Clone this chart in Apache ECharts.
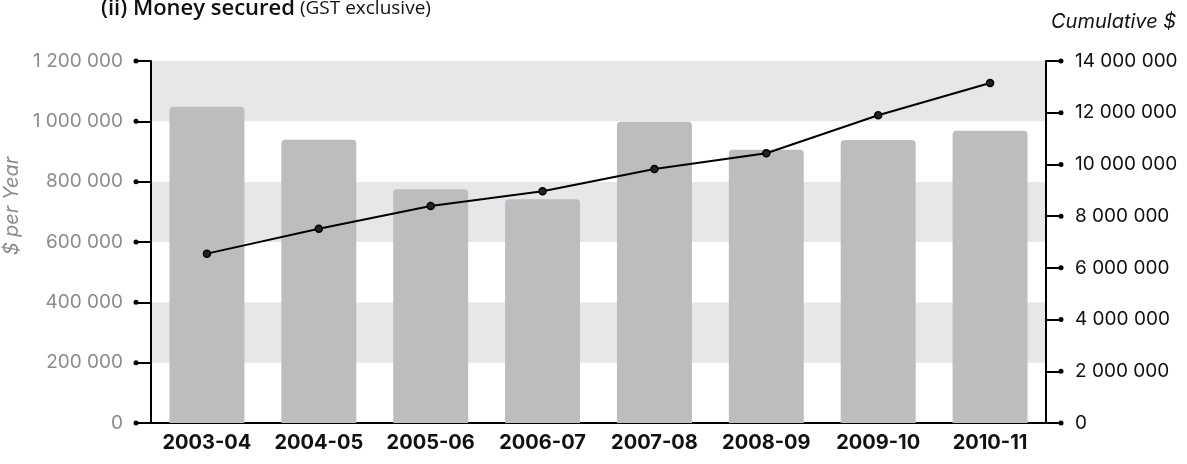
<!DOCTYPE html>
<html>
<head>
<meta charset="utf-8">
<script src="https://cdn.jsdelivr.net/npm/echarts@6/dist/echarts.min.js"></script>
<style>
  html, body { margin: 0; padding: 0; background: #fff; }
  #chart { width: 1187px; height: 464px; }
</style>
</head>
<body>
<div id="chart"></div>
<script>
// Financial years
const years = ['2003-04', '2004-05', '2005-06', '2006-07', '2007-08', '2008-09', '2009-10', '2010-11'];
// Money secured in each year ($, GST exclusive)
const perYear = [1048000, 939000, 775000, 742000, 999000, 906000, 938000, 969000];
// Running total ($)
const cumulative = [6550000, 7510000, 8390000, 8960000, 9820000, 10430000, 11900000, 13150000];
// Tick values for both value axes
const leftTicks = [0, 200000, 400000, 600000, 800000, 1000000, 1200000];
const rightTicks = [0, 2000000, 4000000, 6000000, 8000000, 10000000, 12000000, 14000000];

const FONT = 'Inter, Roboto, "Liberation Sans", sans-serif';
const TITLE_FONT = '"Open Sans", "Noto Sans", sans-serif';
// thousands grouped with a space
const fmt = v => String(v).replace(/\B(?=(\d{3})+(?!\d))/g, ' ');

const chart = echarts.init(document.getElementById('chart'), null, { renderer: 'canvas' });

chart.setOption({
  animation: false,
  backgroundColor: '#ffffff',
  title: {
    text: '{a|(ii) Money secured} {b|(GST exclusive)}',
    left: 96,
    top: -7,
    textStyle: {
      rich: {
        a: { fontFamily: TITLE_FONT, fontSize: 22, fontWeight: 600, color: '#111' },
        b: { fontFamily: TITLE_FONT, fontSize: 19, fontWeight: 500, color: '#111' }
      }
    }
  },
  grid: { left: 151, right: 141, top: 61, bottom: 41, containLabel: false, outerBoundsMode: 'none' },
  xAxis: {
    type: 'category',
    data: years,
    axisLine: { lineStyle: { color: '#000', width: 2 } },
    axisTick: { show: false },
    axisLabel: { interval: 0, hideOverlap: false, fontFamily: FONT, fontSize: 20, fontWeight: 'bold', color: '#111', margin: 10 }
  },
  yAxis: [
    {
      type: 'value',
      min: 0, max: 1200000, interval: 200000,
      name: '$ per Year',
      nameLocation: 'middle',
      nameGap: 119,
      nameTextStyle: { fontFamily: FONT, fontSize: 20, fontStyle: 'italic', color: '#8a8b8d', padding: [0, 0, 0, 72] },
      axisLine: { show: true, lineStyle: { color: '#000', width: 2 } },
      axisTick: { show: true, length: 15, lineStyle: { color: '#000', width: 2 } },
      axisLabel: { fontFamily: FONT, fontSize: 19, color: '#8a8b8d', margin: 28, formatter: fmt },
      splitLine: { show: false },
      splitArea: { show: true, areaStyle: { color: ['#ffffff', '#e6e7e8'] } }
    },
    {
      type: 'value',
      min: 0, max: 14000000, interval: 2000000,
      position: 'right',
      name: 'Cumulative $',
      nameLocation: 'end',
      nameGap: 29,
      nameTextStyle: { fontFamily: FONT, fontSize: 20, fontStyle: 'italic', color: '#111', align: 'left', padding: [0, 0, 0, 5] },
      axisLine: { show: true, lineStyle: { color: '#000', width: 2 } },
      axisTick: { show: true, length: 15, lineStyle: { color: '#000', width: 2 } },
      axisLabel: { fontFamily: FONT, fontSize: 19, color: '#111', margin: 29, formatter: fmt },
      splitLine: { show: false }
    }
  ],
  series: [
    {
      type: 'bar',
      data: perYear,
      yAxisIndex: 0,
      barWidth: '67%',
      itemStyle: { color: '#bcbdbf', borderRadius: [4, 4, 0, 0] }
    },
    {
      type: 'line',
      data: cumulative,
      yAxisIndex: 1,
      symbol: 'circle',
      symbolSize: 7,
      lineStyle: { color: '#000', width: 2 },
      itemStyle: { color: '#222', borderColor: '#000', borderWidth: 1.5 }
    }
  ]
});

// Round dots at the outer end of each value-axis tick
const gridRect = chart.getModel().getComponent('grid', 0).coordinateSystem.getRect();
const dots = [];
leftTicks.forEach(v => {
  const y = chart.convertToPixel({ yAxisIndex: 0 }, v);
  dots.push({ type: 'circle', shape: { cx: gridRect.x - 15, cy: y, r: 2.5 }, style: { fill: '#000' }, z: 100 });
});
rightTicks.forEach(v => {
  const y = chart.convertToPixel({ yAxisIndex: 1 }, v);
  dots.push({ type: 'circle', shape: { cx: gridRect.x + gridRect.width + 15, cy: y, r: 2.5 }, style: { fill: '#000' }, z: 100 });
});
chart.setOption({ graphic: dots });
</script>
</body>
</html>
